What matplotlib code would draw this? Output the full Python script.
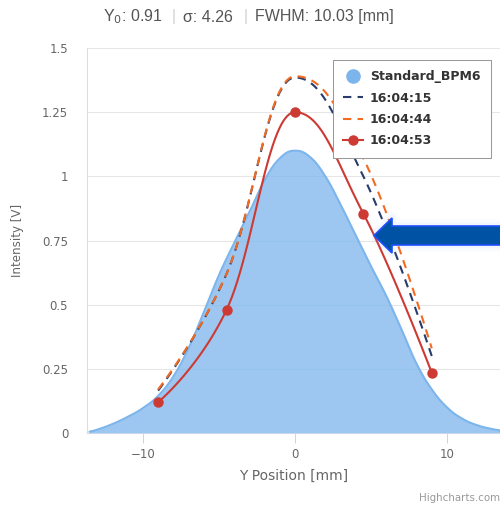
import numpy as np
import matplotlib.pyplot as plt
from matplotlib.lines import Line2D
from matplotlib.patches import Polygon

# Standard_BPM6 reference profile
std_x = [-13.5, -13, -12, -11, -10, -9, -8, -7, -6, -5, -4, -3, -2, -1, 0,
         1, 2, 3, 4, 5, 6, 7, 8, 9, 10, 11, 12, 13, 13.5]
std_y = [0.005, 0.013, 0.035, 0.063, 0.097, 0.145, 0.22, 0.33, 0.47, 0.615,
         0.74, 0.86, 0.985, 1.07, 1.1, 1.075, 1.0, 0.89, 0.77, 0.65,
         0.535, 0.405, 0.27, 0.17, 0.1, 0.056, 0.03, 0.015, 0.01]

# scan positions and measured intensities
scan_x = [-9, -4.5, 0, 4.5, 9]
y_160415 = [0.165, 0.62, 1.385, 1.0, 0.30]
y_160444 = [0.17, 0.62, 1.39, 1.07, 0.33]
y_160453 = [0.12, 0.48, 1.25, 0.855, 0.235]

labels = ["Standard_BPM6", "16:04:15", "16:04:44", "16:04:53"]
y_ticks = [0, 0.25, 0.5, 0.75, 1, 1.25, 1.5]
y_tick_labels = ["0", "0.25", "0.5", "0.75", "1", "1.25", "1.5"]
x_ticks = [-10, 0, 10]

C_AREA = "#7cb5ec"
C_NAVY = "#283c6c"
C_ORANGE = "#f26b21"
C_RED = "#cd3a34"


def spline(xs, ys, n=30):
    # smooth curve through the points, same idea as highcharts spline
    xs = np.asarray(xs, float)
    ys = np.asarray(ys, float)
    sm = 1.5
    den = sm + 1
    m = len(xs)
    lc = [(xs[i], ys[i]) for i in range(m)]
    rc = [(xs[i], ys[i]) for i in range(m)]
    for i in range(1, m - 1):
        lx = (sm * xs[i] + xs[i - 1]) / den
        ly = (sm * ys[i] + ys[i - 1]) / den
        rx = (sm * xs[i] + xs[i + 1]) / den
        ry = (sm * ys[i] + ys[i + 1]) / den
        corr = (ry - ly) * (rx - xs[i]) / (rx - lx) + ys[i] - ry
        ly += corr
        ry += corr
        if ly > ys[i - 1] and ly > ys[i]:
            ly = max(ys[i - 1], ys[i])
            ry = 2 * ys[i] - ly
        elif ly < ys[i - 1] and ly < ys[i]:
            ly = min(ys[i - 1], ys[i])
            ry = 2 * ys[i] - ly
        if ry > ys[i + 1] and ry > ys[i]:
            ry = max(ys[i + 1], ys[i])
            ly = 2 * ys[i] - ry
        elif ry < ys[i + 1] and ry < ys[i]:
            ry = min(ys[i + 1], ys[i])
            ly = 2 * ys[i] - ry
        lc[i] = (lx, ly)
        rc[i] = (rx, ry)
    t = np.linspace(0, 1, n)[1:]
    out_x = [xs[0]]
    out_y = [ys[0]]
    for i in range(1, m):
        p0 = np.array([xs[i - 1], ys[i - 1]])
        p1 = np.array(rc[i - 1])
        p2 = np.array(lc[i])
        p3 = np.array([xs[i], ys[i]])
        for tt in t:
            p = ((1 - tt) ** 3 * p0 + 3 * (1 - tt) ** 2 * tt * p1
                 + 3 * (1 - tt) * tt ** 2 * p2 + tt ** 3 * p3)
            out_x.append(p[0])
            out_y.append(p[1])
    return np.array(out_x), np.array(out_y)


fig = plt.figure(figsize=(5, 5.05), dpi=100)
W, H = 500, 505
ax = fig.add_axes([87 / W, 1 - 433 / H, 413 / W, 385 / H])

sx, sy = spline(std_x, std_y)
ax.fill_between(sx, 0, sy, color=C_AREA, alpha=0.75, lw=0, zorder=2)
ax.plot(sx, sy, color=C_AREA, lw=1.5, zorder=3)

for ys, col in [(y_160415, C_NAVY), (y_160444, C_ORANGE)]:
    cx, cy = spline(scan_x, ys)
    ax.plot(cx, cy, color=col, lw=1.5, ls=(0, (4, 3)), zorder=4)

cx, cy = spline(scan_x, y_160453)
ax.plot(cx, cy, color=C_RED, lw=1.5, zorder=5)
ax.plot(scan_x, y_160453, "o", color=C_RED, ms=6.5, zorder=6)

ax.set_xlim(-13.68, 13.49)
ax.set_ylim(0, 1.5)
ax.set_yticks(y_ticks)
ax.set_yticklabels(y_tick_labels)
ax.set_xticks(x_ticks)
ax.set_xticklabels(["\u221210", "0", "10"])
ax.grid(axis="y", color="#e6e6e6", lw=0.75)
ax.set_axisbelow(True)

for s in ["top", "right"]:
    ax.spines[s].set_visible(False)
ax.spines["left"].set_color("#d8dde6")
ax.spines["left"].set_linewidth(0.75)
ax.spines["bottom"].set_color("#ccd6eb")
ax.spines["bottom"].set_linewidth(0.75)
ax.tick_params(axis="y", length=0, pad=13.5, labelsize=8.5, labelcolor="#666666")
ax.tick_params(axis="x", length=7.2, width=0.75, color="#ccd6eb", pad=3.5,
               labelsize=8.5, labelcolor="#666666")

ax.set_xlabel("Y Position [mm]", fontsize=10, color="#666666", labelpad=6)
ax.set_ylabel("Intensity [V]", fontsize=8.6, color="#666666")
ax.yaxis.set_label_coords(-(87 - 24) / 413, 0.5)

handles = [
    Line2D([], [], color=C_AREA, marker="o", ls="none", ms=9.5),
    Line2D([], [], color=C_NAVY, lw=1.5, ls=(0, (4, 3))),
    Line2D([], [], color=C_ORANGE, lw=1.5, ls=(0, (4, 3))),
    Line2D([], [], color=C_RED, lw=1.5, marker="o", ms=6.5),
]
leg = fig.legend(handles, labels, loc="upper left",
                 bbox_to_anchor=(333 / W, 1 - 60 / H), frameon=True,
                 fancybox=False, edgecolor="#999999", framealpha=1,
                 prop={"weight": "bold", "size": 9}, handlelength=1.6,
                 handletextpad=0.56, labelspacing=0.68, borderpad=0.8,
                 borderaxespad=0)
leg.get_frame().set_linewidth(0.75)
for t in leg.get_texts():
    t.set_color("#333333")

# title pieces
tfam = ["Liberation Sans", "DejaVu Sans"]
ty = 1 - 17 / H
fig.text(103 / W, ty, "Y$_0$: 0.91", family=tfam, fontsize=11.5,
         color="#555555", va="center")
fig.text(174 / W, ty, "|", family=tfam, fontsize=11.5, color="#d0d0d0",
         va="center", ha="center")
fig.text(183 / W, ty, "\u03c3: 4.26", family=tfam, fontsize=11.5,
         color="#555555", va="center")
fig.text(246 / W, ty, "|", family=tfam, fontsize=11.5, color="#d0d0d0",
         va="center", ha="center")
fig.text(255 / W, ty, "FWHM: 10.03 [mm]", family=tfam, fontsize=11.5,
         color="#555555", va="center")

fig.text(419 / W, 1 - 498 / H, "Highcharts.com", fontsize=7.4, color="#999999",
         va="center")

# annotation arrow pointing at the 16:04:53 curve
tip_x, tip_y = 374, 235.5
pts = [(tip_x, tip_y), (tip_x + 18, tip_y - 17.5), (tip_x + 18, tip_y - 9.5),
       (W + 10, tip_y - 9.5), (W + 10, tip_y + 9.5), (tip_x + 18, tip_y + 9.5),
       (tip_x + 18, tip_y + 17.5)]
pts = [(px / W, 1 - py / H) for px, py in pts]
for lw, a in [(9, 0.04), (5, 0.07)]:
    fig.patches.append(Polygon(pts, closed=True, transform=fig.transFigure,
                               facecolor="none", edgecolor="#8fa8e8",
                               lw=lw, alpha=a, joinstyle="round", zorder=8))
fig.patches.append(Polygon(pts, closed=True, transform=fig.transFigure,
                           facecolor="#0052a5", edgecolor="#1f4fff", lw=1.2,
                           zorder=9))

fig.savefig("out.png", dpi=100)
